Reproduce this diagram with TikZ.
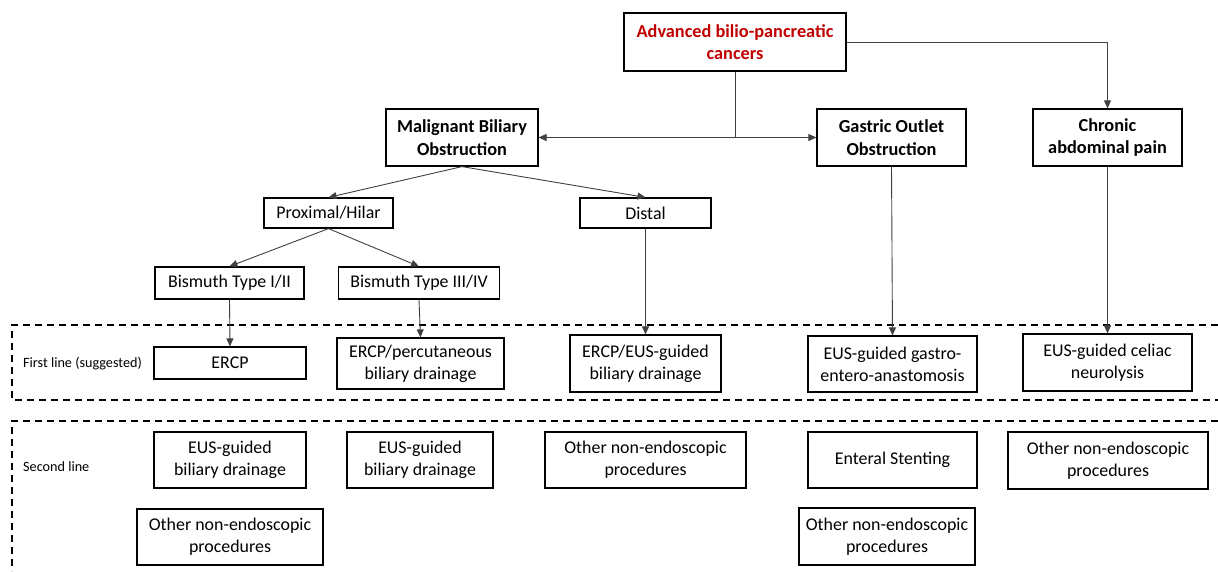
\documentclass[tikz,border=0pt]{standalone}
\usepackage{fontspec}
\setmainfont{Carlito}
\usetikzlibrary{arrows.meta}
\definecolor{titlered}{HTML}{C00000}
\definecolor{linkgray}{HTML}{404040}

\tikzset{
  box/.style={draw, line width=1.2pt, align=center, inner sep=0pt, font=\fontsize{17.9}{22}\selectfont},
  headbox/.style={box, font=\fontsize{18.3}{22.5}\selectfont\bfseries},
  link/.style={draw=linkgray, line width=0.9pt},
  zone/.style={line width=1.3pt, dash pattern=on 7pt off 5pt},
  tier/.style={anchor=west, inner sep=0pt, font=\fontsize{14.2}{17}\selectfont},
}

\begin{document}
\begin{tikzpicture}[x=1pt, y=-1pt, >={Triangle[length=8pt,width=7pt]}]
\useasboundingbox (0,0) rectangle (1218,571);

\draw[zone] (1218,325) -- (12,325) -- (12,400) -- (1218,400);
\draw[zone] (1218,421) -- (12,421) -- (12,571);
\node[tier] (first) at (23,364) {First line (suggested)};
\node[tier] (second) at (23,467) {Second line};

\node[headbox, text=titlered, minimum width=222pt, minimum height=58pt] (adv) at (735,42) {Advanced bilio-pancreatic\\cancers};
\node[headbox, minimum width=152pt, minimum height=57pt] (mbo) at (462,137.5) {Malignant Biliary\\Obstruction};
\node[headbox, minimum width=149pt, minimum height=57pt] (goo) at (891.5,137.5) {Gastric Outlet\\Obstruction};
\node[headbox, minimum width=149pt, minimum height=57pt] (cap) at (1107.5,137.5) {Chronic\\abdominal pain};

\node[box, minimum width=129pt, minimum height=30pt] (prox) at (328.5,213) {Proximal/Hilar};
\node[box, minimum width=131pt, minimum height=30pt] (dist) at (645.5,213) {Distal};
\node[box, minimum width=149pt, minimum height=32pt] (bisone) at (229.5,283) {Bismuth Type I/II};
\node[box, minimum width=161pt, minimum height=32pt] (bistwo) at (419,283) {Bismuth Type III/IV};

\node[box, minimum width=152pt, minimum height=32pt] (ercp) at (230,363) {ERCP};
\node[box, minimum width=167pt, minimum height=51pt] (ercpperc) at (420.5,363.5) {ERCP/percutaneous\\biliary drainage};
\node[box, minimum width=151pt, minimum height=57pt] (ercpeus) at (645.5,363.5) {ERCP/EUS-guided\\biliary drainage};
\node[box, minimum width=169pt, minimum height=56pt] (egea) at (892.5,364) {EUS-guided gastro-\\entero-anastomosis};
\node[box, minimum width=169pt, minimum height=57pt] (celiac) at (1107.5,362.5) {EUS-guided celiac\\neurolysis};

\node[box, minimum width=152pt, minimum height=56pt] (eusone) at (230,460) {EUS-guided\\biliary drainage};
\node[box, minimum width=146pt, minimum height=56pt] (eustwo) at (420,460) {EUS-guided\\biliary drainage};
\node[box, minimum width=201pt, minimum height=56pt] (othdist) at (645.5,460) {Other non-endoscopic\\procedures};
\node[box, minimum width=169pt, minimum height=56pt] (enteral) at (892.5,460) {Enteral Stenting};
\node[box, minimum width=200pt, minimum height=57pt] (othpain) at (1108,460.5) {Other non-endoscopic\\procedures};
\node[box, minimum width=186pt, minimum height=56pt] (othhilar) at (230,537) {Other non-endoscopic\\procedures};
\node[box, minimum width=176pt, minimum height=57pt] (othgoo) at (887,536.5) {Other non-endoscopic\\procedures};

\draw[link] (adv.south) -- (adv.south |- mbo.east);
\draw[link, <->] (mbo.east) -- (goo.west);
\draw[link, ->] (adv.east) -| (cap.north);
\draw[link, ->] (mbo.south) -- (prox.north);
\draw[link, ->] (mbo.south) -- (dist.north);
\draw[link, ->] (prox.south) -- (bisone.north);
\draw[link, ->] (prox.south) -- (bistwo.north);
\draw[link, ->] (bisone.south) -- (ercp.north);
\draw[link, ->] (bistwo.south) -- (ercpperc.north);
\draw[link, ->] (dist.south) -- (ercpeus.north);
\draw[link, ->] (goo.south) -- (egea.north);
\draw[link, ->] (cap.south) -- (celiac.north);
\end{tikzpicture}
\end{document}
